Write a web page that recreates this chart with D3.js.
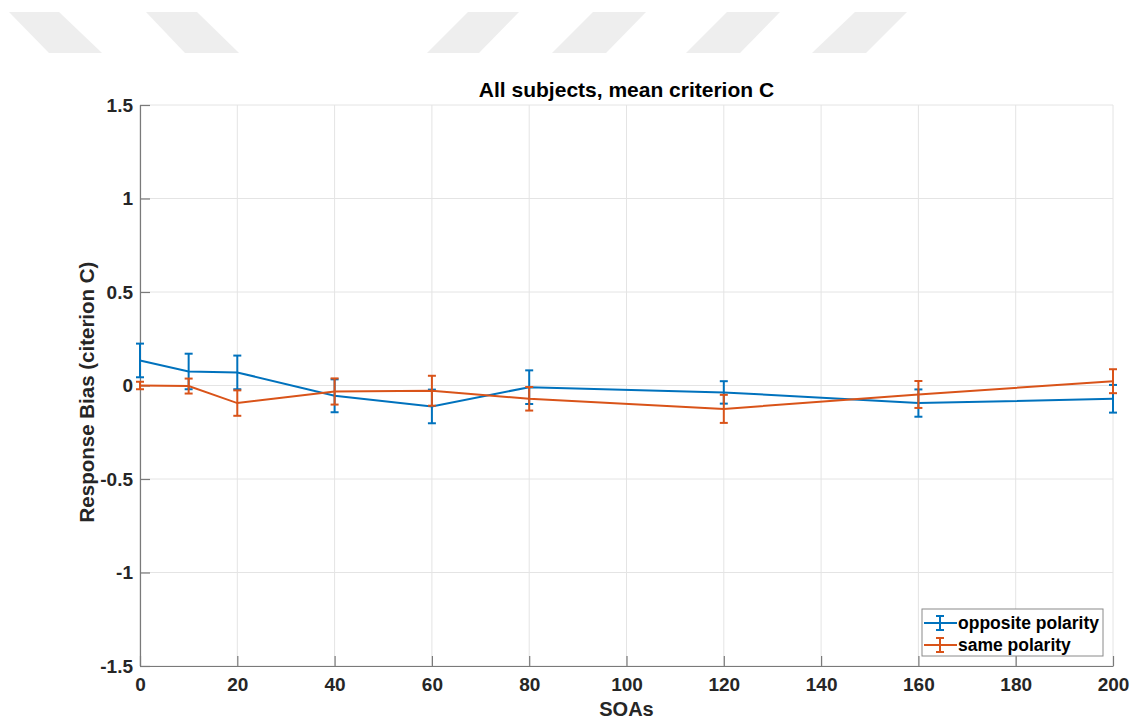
<!DOCTYPE html>
<html>
<head>
<meta charset="utf-8">
<script src="https://cdn.jsdelivr.net/npm/d3@7"></script>
<style>
  html, body { margin: 0; padding: 0; background: #fff; }
  svg { display: block; font-family: "Liberation Sans", Arial, Helvetica, sans-serif; }
</style>
</head>
<body>
<svg id="chart" width="1134" height="721"></svg>
<script>
// SOA conditions (ms)
const soas = [0, 10, 20, 40, 60, 80, 120, 160, 200];
// Mean criterion C and error per SOA
const oppositeMean = [0.134, 0.075, 0.070, -0.055, -0.112, -0.009, -0.037, -0.094, -0.071];
const oppositeErr  = [0.090, 0.095, 0.090, 0.088, 0.090, 0.090, 0.060, 0.073, 0.074];
const sameMean     = [0.000, -0.003, -0.094, -0.032, -0.028, -0.071, -0.125, -0.048, 0.023];
const sameErr      = [0.020, 0.040, 0.068, 0.070, 0.080, 0.063, 0.075, 0.072, 0.064];

const xTicks = [0, 20, 40, 60, 80, 100, 120, 140, 160, 180, 200];
const yTicks = [-1.5, -1, -0.5, 0, 0.5, 1, 1.5];
const seriesNames = ["opposite polarity", "same polarity"];
const seriesColors = ["#0072BD", "#D95319"];

const svg = d3.select("#chart");

// faint banner stripes across the top of the page
const stripes = [
  {top: [9, 59], bottom: [49, 102]},
  {top: [146, 197], bottom: [185, 239]},
  {top: [468, 519], bottom: [427, 479]},
  {top: [593, 646], bottom: [552, 606]},
  {top: [727, 780], bottom: [686, 740]},
  {top: [855, 907], bottom: [812, 866]}
];
svg.append("g").selectAll("polygon").data(stripes).join("polygon")
  .attr("points", d => [[d.top[0], 12], [d.top[1], 12], [d.bottom[1], 53], [d.bottom[0], 53]].join(" "))
  .attr("fill", "#eeeeee");

const margin = {left: 140, right: 1113, top: 105, bottom: 666};
const x = d3.scaleLinear().domain([0, 200]).range([margin.left, margin.right]);
const y = d3.scaleLinear().domain([-1.5, 1.5]).range([margin.bottom, margin.top]);

// grid
const grid = svg.append("g");
grid.selectAll("line.gx").data(xTicks).join("line")
  .attr("x1", d => x(d)).attr("x2", d => x(d))
  .attr("y1", margin.top).attr("y2", margin.bottom)
  .attr("stroke", "#e4e4e4").attr("stroke-width", 1);
grid.selectAll("line.gy").data(yTicks).join("line")
  .attr("x1", margin.left).attr("x2", margin.right)
  .attr("y1", d => y(d)).attr("y2", d => y(d))
  .attr("stroke", "#e4e4e4").attr("stroke-width", 1);

// axes
const xAxis = d3.axisBottom(x).tickValues(xTicks).tickSizeInner(-10).tickSizeOuter(0).tickPadding(12)
  .tickFormat(d3.format("d"));
const yAxis = d3.axisLeft(y).tickValues(yTicks).tickSizeInner(-10).tickSizeOuter(0).tickPadding(7)
  .tickFormat(d => d === 0 ? "0" : String(d));

const gx = svg.append("g").attr("transform", `translate(0,${margin.bottom})`).call(xAxis);
const gy = svg.append("g").attr("transform", `translate(${margin.left},0)`).call(yAxis);
[gx, gy].forEach(g => {
  g.select(".domain").attr("stroke", "#7a7a7a").attr("stroke-width", 1.2);
  g.selectAll(".tick line").attr("stroke", "#7a7a7a").attr("stroke-width", 1.2);
  g.selectAll(".tick text").attr("fill", "#262626").attr("font-size", 19).attr("font-weight", "bold");
});

// series
const series = [
  {mean: oppositeMean, err: oppositeErr},
  {mean: sameMean, err: sameErr}
];
const line = d3.line().x(d => x(d.s)).y(d => y(d.m));
const cap = 4;
series.forEach((s, i) => {
  const pts = soas.map((v, j) => ({s: v, m: s.mean[j], e: s.err[j]}));
  const g = svg.append("g").attr("stroke", seriesColors[i]).attr("stroke-width", 2).attr("fill", "none");
  g.append("path").attr("d", line(pts));
  const eb = g.selectAll("g.eb").data(pts).join("g");
  eb.append("line")
    .attr("x1", d => x(d.s)).attr("x2", d => x(d.s))
    .attr("y1", d => y(d.m - d.e)).attr("y2", d => y(d.m + d.e));
  eb.append("line")
    .attr("x1", d => x(d.s) - cap).attr("x2", d => x(d.s) + cap)
    .attr("y1", d => y(d.m + d.e)).attr("y2", d => y(d.m + d.e));
  eb.append("line")
    .attr("x1", d => x(d.s) - cap).attr("x2", d => x(d.s) + cap)
    .attr("y1", d => y(d.m - d.e)).attr("y2", d => y(d.m - d.e));
});

// title and axis labels
svg.append("text").attr("x", (margin.left + margin.right) / 2).attr("y", 97)
  .attr("text-anchor", "middle").attr("font-size", 21).attr("font-weight", "bold").attr("fill", "#000")
  .text("All subjects, mean criterion C");
svg.append("text").attr("x", (margin.left + margin.right) / 2).attr("y", 716)
  .attr("text-anchor", "middle").attr("font-size", 20).attr("font-weight", "bold").attr("fill", "#262626")
  .text("SOAs");
svg.append("text").attr("transform", `translate(94,392) rotate(-90)`)
  .attr("text-anchor", "middle").attr("font-size", 20.5).attr("font-weight", "bold").attr("fill", "#262626")
  .text("Response Bias (citerion C)");

// legend
const lg = svg.append("g").attr("transform", "translate(922,609)");
lg.append("rect").attr("width", 181).attr("height", 47)
  .attr("fill", "#fff").attr("stroke", "#8a8a8a").attr("stroke-width", 1);
seriesNames.forEach((name, i) => {
  const cy = 14 + i * 22;
  const g = lg.append("g").attr("stroke", seriesColors[i]).attr("stroke-width", 2);
  g.append("line").attr("x1", 2).attr("x2", 35).attr("y1", cy).attr("y2", cy);
  g.append("line").attr("x1", 18).attr("x2", 18).attr("y1", cy - 7).attr("y2", cy + 7);
  g.append("line").attr("x1", 14).attr("x2", 22).attr("y1", cy - 7).attr("y2", cy - 7);
  g.append("line").attr("x1", 14).attr("x2", 22).attr("y1", cy + 7).attr("y2", cy + 7);
  lg.append("text").attr("x", 36).attr("y", cy).attr("dy", "0.35em")
    .attr("font-size", 17.5).attr("font-weight", "bold").attr("fill", "#000").text(name);
});
</script>
</body>
</html>
